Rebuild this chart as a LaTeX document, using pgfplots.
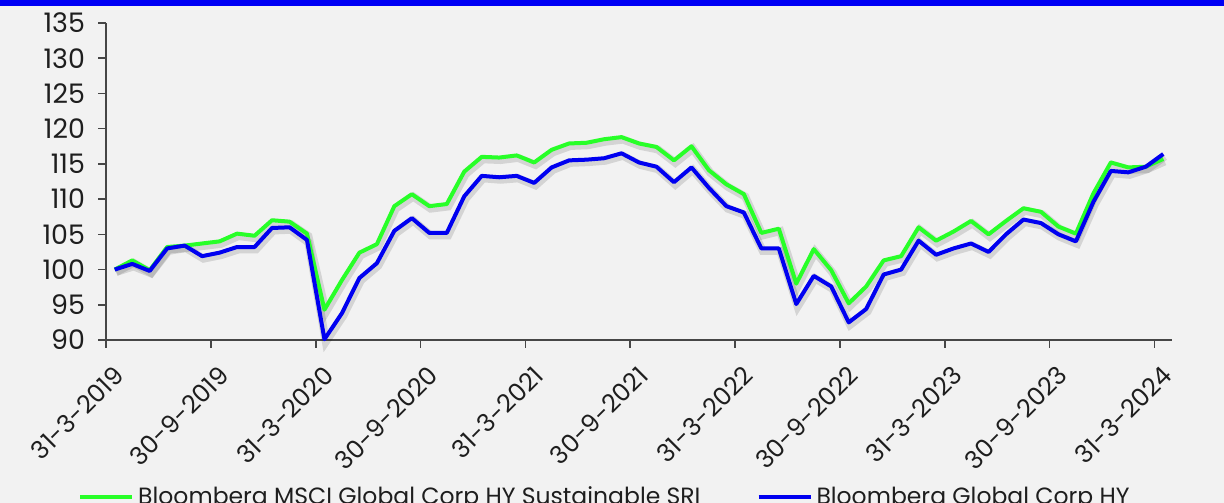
\documentclass[border=0pt]{standalone}
\usepackage{pgfplots}
\pgfplotsset{compat=1.18}
\usepackage{pgfplotstable}
\usepackage{fontspec}
\setmainfont{Poppins}
\definecolor{bgc}{RGB}{242,242,242}
\definecolor{topblue}{RGB}{0,0,245}
\definecolor{serg}{RGB}{40,255,40}
\definecolor{serb}{RGB}{0,0,240}
\definecolor{axc}{RGB}{70,70,70}
\definecolor{txt}{RGB}{30,30,30}
\pgfplotstableread{
x y
0.5 100.0
1.5 101.3
2.5 99.9
3.5 103.2
4.5 103.4
5.5 103.7
6.5 104.0
7.5 105.1
8.5 104.8
9.5 107.0
10.5 106.8
11.5 105.1
12.5 94.3
13.5 98.5
14.5 102.4
15.5 103.6
16.5 109.0
17.5 110.7
18.5 109.0
19.5 109.3
20.5 113.9
21.5 116.0
22.5 115.9
23.5 116.2
24.5 115.2
25.5 117.0
26.5 117.9
27.5 118.0
28.5 118.5
29.5 118.8
30.5 117.9
31.5 117.4
32.5 115.5
33.5 117.5
34.5 114.1
35.5 112.1
36.5 110.7
37.5 105.2
38.5 105.8
39.5 98.0
40.5 102.9
41.5 99.9
42.5 95.2
43.5 97.6
44.5 101.3
45.5 101.9
46.5 106.0
47.5 104.1
48.5 105.4
49.5 106.9
50.5 105.0
51.5 106.9
52.5 108.7
53.5 108.2
54.5 106.1
55.5 105.1
56.5 110.8
57.5 115.2
58.5 114.5
59.5 114.6
60.5 115.7
}\sri
\pgfplotstableread{
x y
0.5 100.0
1.5 100.8
2.5 99.8
3.5 103.0
4.5 103.4
5.5 101.9
6.5 102.4
7.5 103.2
8.5 103.2
9.5 105.9
10.5 106.0
11.5 104.2
12.5 90.1
13.5 93.8
14.5 98.8
15.5 100.9
16.5 105.5
17.5 107.3
18.5 105.2
19.5 105.2
20.5 110.4
21.5 113.3
22.5 113.1
23.5 113.3
24.5 112.3
25.5 114.5
26.5 115.5
27.5 115.6
28.5 115.8
29.5 116.5
30.5 115.2
31.5 114.6
32.5 112.4
33.5 114.5
34.5 111.6
35.5 109.0
36.5 108.1
37.5 103.0
38.5 103.0
39.5 95.1
40.5 99.1
41.5 97.6
42.5 92.5
43.5 94.4
44.5 99.3
45.5 100.0
46.5 104.1
47.5 102.1
48.5 103.0
49.5 103.7
50.5 102.5
51.5 105.0
52.5 107.1
53.5 106.6
54.5 105.0
55.5 104.0
56.5 109.6
57.5 114.0
58.5 113.8
59.5 114.6
60.5 116.4
}\hy
\begin{document}
\begin{tikzpicture}
\useasboundingbox (0,0) rectangle (612bp,251.5bp);
\fill[bgc] (0,0) rectangle (612bp,251.5bp);
\fill[topblue] (0,248.5bp) rectangle (612bp,251.5bp);
\begin{axis}[
  at={(53bp,81.5bp)}, anchor=south west,
  scale only axis, width=533bp, height=158.5bp,
  xmin=0, xmax=61, ymin=90, ymax=135,
  axis lines=left, axis line style={axc, line width=0.8pt, -},
  xtick={0,6,...,60},
  xticklabels={31-3-2019,30-9-2019,31-3-2020,30-9-2020,31-3-2021,30-9-2021,31-3-2022,30-9-2022,31-3-2023,30-9-2023,31-3-2024},
  ytick={90,95,...,135},
  tick align=outside, major tick length=4bp,
  tick style={axc, line width=0.8pt},
  /pgf/number format/assume math mode=true,
  yticklabel style={font=\fontsize{13.5}{15}\selectfont, text=txt, xshift=-3bp},
  xticklabel style={font=\fontsize{12.5}{14}\selectfont, text=txt, xshift=9bp, yshift=-9bp, rotate=45, anchor=east},
  legend columns=2,
  legend style={draw=none, fill=none, at={(-0.032,-0.495)}, anchor=west,
    font=\fontsize{11.8}{14}\selectfont, text=txt,
    /tikz/every even column/.append style={column sep=26bp}},
  legend image code/.code={\draw[#1, line width=2bp] (0bp,0bp) -- (26bp,0bp);},
  clip=false,
]
\addplot[draw=black, opacity=0.12, line width=4bp, forget plot] table[x expr=\thisrow{x}+0.08, y expr=\thisrow{y}-0.35] {\sri};
\addplot[draw=black, opacity=0.12, line width=4bp, forget plot] table[x expr=\thisrow{x}+0.08, y expr=\thisrow{y}-0.35] {\hy};
\addplot[serg, line width=2bp, line join=round] table {\sri};
\addlegendentry{Bloomberg MSCI Global Corp HY Sustainable SRI}
\addplot[serb, line width=2bp, line join=round] table {\hy};
\addlegendentry{Bloomberg Global Corp HY}
\end{axis}
\end{tikzpicture}
\end{document}
